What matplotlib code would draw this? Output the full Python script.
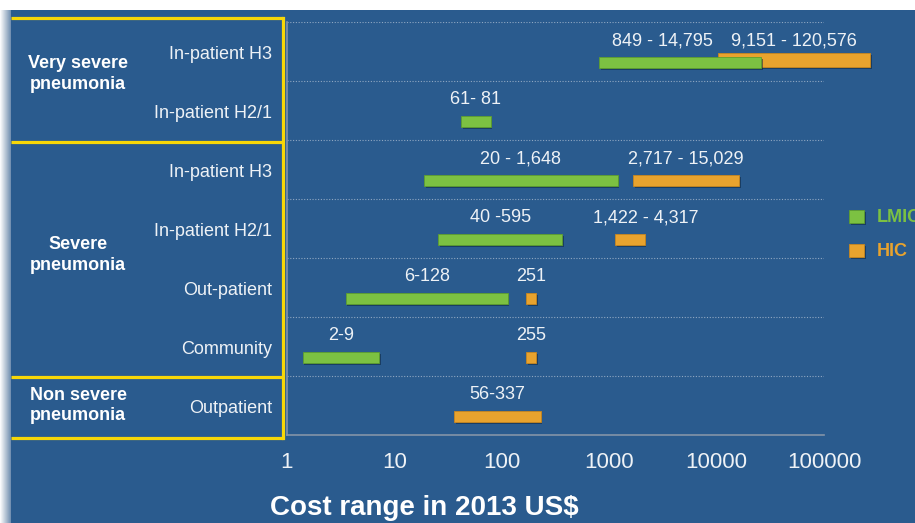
import matplotlib
matplotlib.use('Agg')
import matplotlib.pyplot as plt
import matplotlib.patheffects as pe
import matplotlib.transforms as mtransforms
from matplotlib.patches import Rectangle
from matplotlib.ticker import NullLocator
from matplotlib.colors import LinearSegmentedColormap
import numpy as np

plt.rcParams['font.family'] = ['Liberation Sans', 'DejaVu Sans']

# ---------------- data ----------------
rows = ['In-patient H3', 'In-patient H2/1', 'In-patient H3', 'In-patient H2/1',
        'Out-patient', 'Community', 'Outpatient']
groups = ['Very severe\npneumonia', 'Severe\npneumonia', 'Non severe\npneumonia']
group_rows = [(0, 2), (2, 6), (6, 7)]

lmic_low = [811, 42, 18.9, 25.5, 3.53, 1.40, None]
lmic_high = [25970, 78.7, 1200, 367, 113, 7.21, None]
lmic_labels = ['849 - 14,795', '61- 81', '20 - 1,648', '40 -595', '6-128', '2-9', None]

hic_low = [10350, None, 1679, 1142, 169, 169, 35.9]
hic_high = [267700, None, 16220, 2138, 210, 210, 229.6]
hic_labels = ['9,151 - 120,576', None, '2,717 - 15,029', '1,422 - 4,317', '251', '255', '56-337']

tick_values = [1, 10, 100, 1000, 10000, 100000]
tick_labels = ['1', '10', '100', '1000', '10000', '100000']
xlabel = 'Cost range in 2013 US$'
legend_names = ['LMIC', 'HIC']

# ---------------- style ----------------
BLUE = '#2a5b8e'
GREEN = '#7cc142'
ORANGE = '#e8a32e'
YELLOW = '#f7d708'
TXT = '#eef2f6'
GRID = '#8fa7c2'
FRAME = '#8494a8'

W, H = 915, 523
fig = plt.figure(figsize=(W / 100, H / 100), dpi=100)
fig.patch.set_facecolor('white')

# background in pixel coordinates
bg = fig.add_axes([0, 0, 1, 1])
bg.set_xlim(0, W)
bg.set_ylim(H, 0)
bg.axis('off')
bg.add_patch(Rectangle((11, 10), W - 11, H - 10, facecolor=BLUE, edgecolor='none'))
grad = np.linspace(0, 1, 40)[None, :]
cmap = LinearSegmentedColormap.from_list('g', ['#ffffff', '#b9c7d6', '#6f8eb0'])
bg.imshow(grad, extent=(0, 11, H, 10), aspect='auto', cmap=cmap, zorder=1)

# main axes
x0, x1, y0, y1 = 287, 824, 22, 435
ax = fig.add_axes([x0 / W, 1 - y1 / H, (x1 - x0) / W, (y1 - y0) / H])
ax.set_facecolor('none')
ax.set_xscale('log')
ax.set_xlim(1, 100000)
ax.set_ylim(len(rows), 0)

for s in ['top', 'right']:
    ax.spines[s].set_visible(False)
for s in ['left', 'bottom']:
    ax.spines[s].set_color(FRAME)
    ax.spines[s].set_linewidth(1.2)

for i in range(len(rows)):
    ax.axhline(i, color=GRID, lw=0.8, ls=(0, (1, 1.5)), zorder=1)

ax.set_yticks([])
ax.set_xticks(tick_values)
ax.set_xticklabels(tick_labels)
ax.xaxis.set_minor_locator(NullLocator())
ax.tick_params(axis='x', length=0, pad=12, labelsize=16, labelcolor=TXT)

shadow = [pe.SimplePatchShadow(offset=(1.2, -1.2), shadow_rgbFace='#0c2540', alpha=0.55), pe.Normal()]
bar_h = 0.19
bar_off = 0.69
lab_off = 0.32

for i in range(len(rows)):
    if hic_low[i] is not None:
        hh = bar_h * 1.25 if lmic_low[i] is not None and hic_low[i] < lmic_high[i] else bar_h
        yo = bar_off - 0.04 if hh > bar_h else bar_off
        b = ax.barh(i + yo, hic_high[i] - hic_low[i], left=hic_low[i], height=hh,
                    color=ORANGE, edgecolor='#c9871e', lw=0.6, clip_on=False, zorder=3)
        for p in b:
            p.set_path_effects(shadow)
    if lmic_low[i] is not None:
        b = ax.barh(i + bar_off, lmic_high[i] - lmic_low[i], left=lmic_low[i], height=bar_h,
                    color=GREEN, edgecolor='#5e9e2e', lw=0.6, clip_on=False, zorder=4)
        for p in b:
            p.set_path_effects(shadow)

lmic_dx = [-13, 0, 0, 0, 0, 0, 0]
hic_dx = [0, 0, 0, 11.5, 0, 0, 0]
for i in range(len(rows)):
    if lmic_labels[i]:
        xc = np.sqrt(lmic_low[i] * lmic_high[i])
        ax.annotate(lmic_labels[i], (xc, i + lab_off), xytext=(lmic_dx[i], 0),
                    textcoords='offset points', ha='center', va='center',
                    fontsize=13, color=TXT, zorder=5, annotation_clip=False)
    if hic_labels[i]:
        xc = np.sqrt(hic_low[i] * hic_high[i])
        ax.annotate(hic_labels[i], (xc, i + lab_off), xytext=(hic_dx[i], 0),
                    textcoords='offset points', ha='center', va='center',
                    fontsize=13, color=TXT, zorder=5, annotation_clip=False)

# left panel
blend = mtransforms.blended_transform_factory(fig.transFigure, ax.transData)
for i, r in enumerate(rows):
    ax.text(272 / W, i + 0.55, r, transform=blend, ha='right', va='center',
            fontsize=13, color=TXT)

group_dy = [-0.12, -0.05, 0.0]
for g, (a, b), dy in zip(groups, group_rows, group_dy):
    ax.text(78 / W, (a + b) / 2 + dy, g, transform=blend, ha='center', va='center',
            fontsize=13, fontweight='bold', color='white', linespacing=1.3)

# yellow frames
bounds = [group_rows[0][0] - 0.07, group_rows[1][0] + 0.03, group_rows[2][0] + 0.02,
          group_rows[2][1] + 0.05]
for yb in bounds:
    ax.plot([11 / W, 283 / W], [yb, yb], transform=blend, color=YELLOW, lw=2.3,
            clip_on=False, solid_capstyle='butt', zorder=6)
ax.plot([283 / W, 283 / W], [bounds[0], bounds[-1]], transform=blend, color=YELLOW,
        lw=2.3, clip_on=False, solid_capstyle='projecting', zorder=6)

# legend
for k, (name, col, ec) in enumerate(zip(legend_names, [GREEN, ORANGE], ['#5e9e2e', '#c9871e'])):
    yy = 210 + 34 * k
    sq = Rectangle((849, yy), 15, 13, facecolor=col, edgecolor=ec, lw=0.6, zorder=3)
    sq.set_path_effects(shadow)
    bg.add_patch(sq)
    fig.text(877 / W, 1 - (yy + 7) / H, name, ha='left', va='center', fontsize=13,
             fontweight='bold', color=col)

fig.text(424 / W, 1 - 515 / H, xlabel, ha='center', va='baseline', fontsize=20,
         fontweight='bold', color='white')

fig.savefig('out.png', dpi=100, facecolor=fig.get_facecolor())
